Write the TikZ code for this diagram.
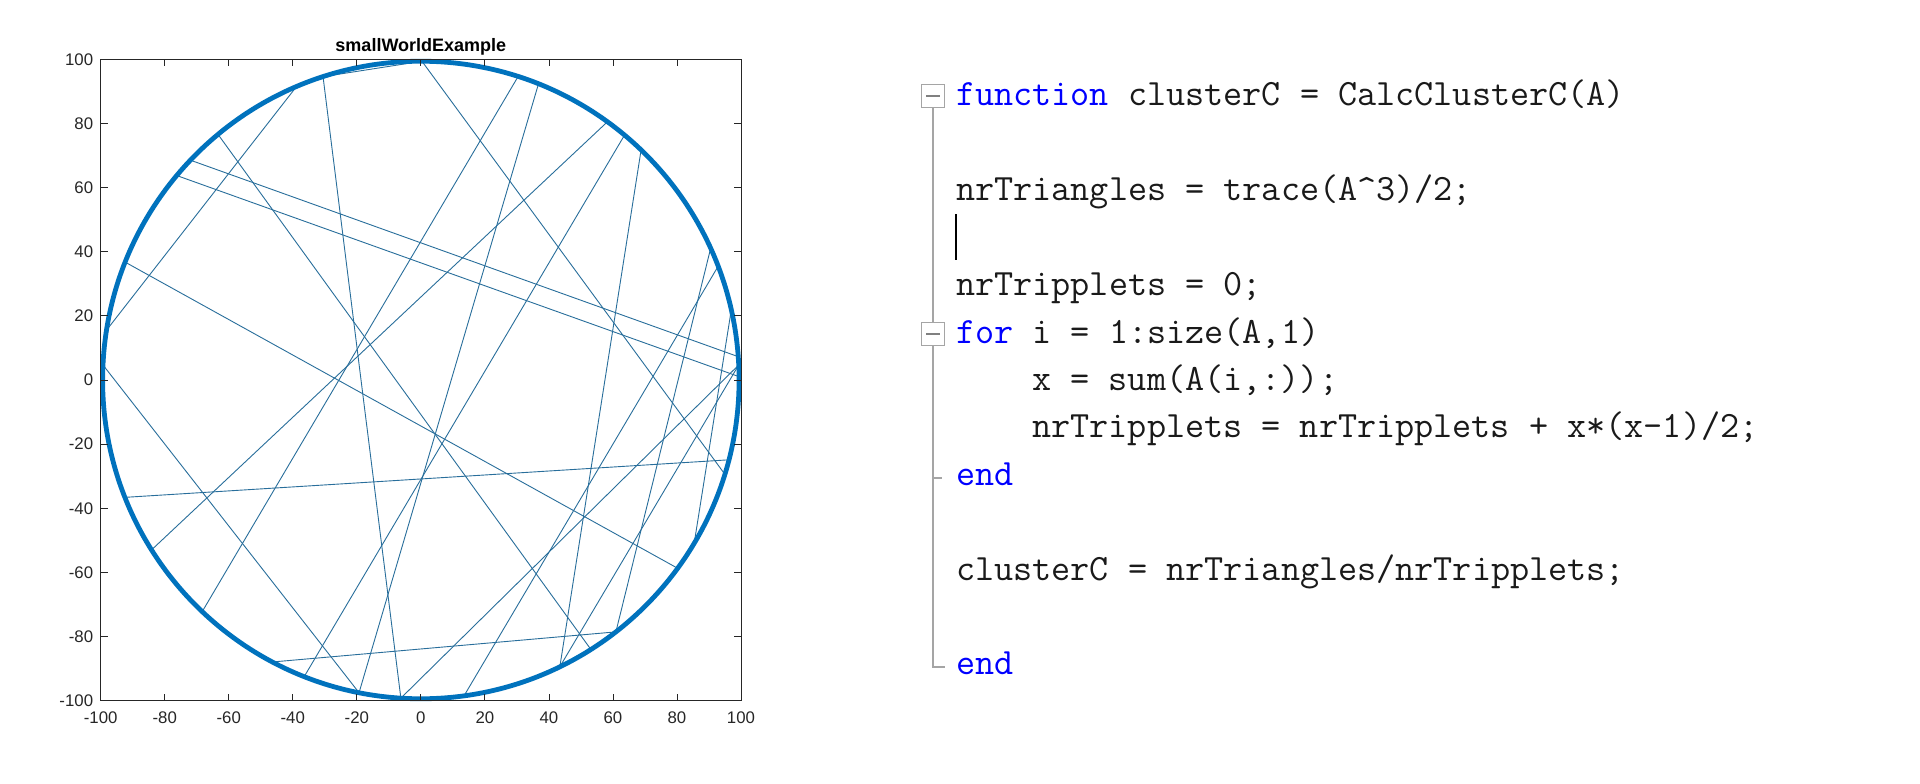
\documentclass[tikz,border=0pt]{standalone}
\usepackage{fontspec}
\newfontfamily\plotfont{Liberation Sans}
\usetikzlibrary{calc}
\definecolor{ringblue}{HTML}{0072BD}
\definecolor{edgeblue}{RGB}{40,110,155}
\definecolor{axisgray}{HTML}{262626}
\definecolor{kwblue}{HTML}{0000FF}
\definecolor{guttergray}{HTML}{A5A5A5}
\definecolor{codeblack}{HTML}{1A1A1A}
\newcommand\kwd[1]{\textcolor{kwblue}{#1}}
\begin{document}
\begin{tikzpicture}[x=1pt,y=-1pt,
  ring/.style={draw=ringblue, line width=4.8pt},
  edge/.style={draw=edgeblue, line width=0.9pt},
  axisline/.style={draw=axisgray, line width=0.8pt},
  ticklab/.style={font=\plotfont\fontsize{16.8}{18}\selectfont, text=axisgray, inner sep=0pt},
  titlelab/.style={font=\plotfont\bfseries\fontsize{18}{20}\selectfont, text=black, inner sep=0pt, anchor=base},
  codeline/.style={font=\ttfamily\fontsize{37.1}{40}\selectfont, text=codeblack, inner sep=0pt, anchor=base west},
  foldbox/.style={draw=guttergray, line width=1pt, minimum width=23pt, minimum height=23pt, inner sep=0pt, fill=white},
  gutter/.style={draw=guttergray, line width=1.2pt},
  foldminus/.style={draw=gray, line width=1.2pt},
  cursorline/.style={draw=black, line width=2pt}
]
\useasboundingbox (0,0) rectangle (1920,784);
\fill[white] (0,0) rectangle (1920,784);

% ---------------- plot ----------------
\begin{scope}[shift={(420.85,380)}, x=3.2015pt, y=3.207pt]
  \foreach \nm/\ang in {t0/89.8, p1/107.9, p2/72.2, p3/68.3, p4/54.1, p5/50.2,
      p6/46.2, p7/24.4, p8/20.9, p9/12.7, p10/4.2, p11/2.7, p12/0.6, p13/-14.5,
      p14/-17.2, p15/-30.8, p16/-36.2, p17/-52.2, p18/-57.7, p19/-64.1,
      p20/-82.2, p21/-93.6, p22/-101.2, p23/-111.5, p24/-117.8, p25/-133.4,
      p26/-147.8, p27/-158.4, p28/177.3, p29/171, p30/158.3, p31/140.1,
      p32/136.4, p33/129.6, p34/113, p35/182}
    \coordinate (\nm) at (\ang:99.4);
  \coordinate (ctr) at (0,0);
  \foreach \a/\b in {p33/p18, p32/p10, p31/p12, p30/p16, p27/p13, p24/p17,
      p29/p34, p28/p22, p1/p21, p1/t0, t0/p14, p2/p25, p3/p22, p4/p26,
      p5/p23, p6/p19, p7/p17, p8/p20, p9/p15, p21/p11, p19/p11, p29/p35}
    \draw[edge] (\a) -- (\b);
  \draw[ring] (ctr) circle [radius=99.4];

  \draw[axisline] (-100,-100) rectangle (100,100);
  \foreach \v [count=\i] in {-100,-80,...,100} {
    \draw[axisline] (\v,-100) -- (\v,-97.8);
    \draw[axisline] (\v,100) -- (\v,97.8);
    \draw[axisline] (-100,\v) -- (-97.8,\v);
    \draw[axisline] (100,\v) -- (97.8,\v);
    \node[ticklab, anchor=north] (xl\i) at (\v,-100) [yshift=-11.3pt] {\v};
    \node[ticklab, anchor=east] (yl\i) at (-100,\v) [xshift=-7.4pt] {\v};
  }
  \node[titlelab] (title) at (0,100) [yshift=8pt] {smallWorldExample};
\end{scope}

% ---------------- code ----------------
\node[codeline] (c0)  at (956,106)   {\kwd{function} clusterC = CalcClusterC(A)};
\node[codeline] (c2)  at (956,200.8) {nrTriangles = trace(A\textasciicircum 3)/2;};
\node[codeline] (c4)  at (956,295.6) {nrTripplets = 0;};
\node[codeline] (c5)  at (956,343)   {\kwd{for} i = 1:size(A,1)};
\node[codeline] (c6)  at (1032.2,390.4) {x = sum(A(i,:));};
\node[codeline] (c7)  at (1032.2,437.8) {nrTripplets = nrTripplets + x*(x-1)/2;};
\node[codeline] (c8)  at (956,485.2) {\kwd{end}};
\node[codeline] (c10) at (956,580)   {clusterC = nrTriangles/nrTripplets;};
\node[codeline] (c12) at (956,674.8) {\kwd{end}};

% cursor
\coordinate (cur1) at (956,214);
\coordinate (cur2) at (956,260);
\draw[cursorline] (cur1) -- (cur2);

% fold gutter
\coordinate (gend) at (933,667);
\coordinate (gendr) at (945,667);
\coordinate (gtick) at (933,478);
\coordinate (gtickr) at (942,478);
\draw[gutter] (933,108) -- (933,322);
\draw[gutter] (933,345) -- (gend) -- (gendr);
\draw[gutter] (gtick) -- (gtickr);
\node[foldbox] (fb1) at (933,96) {};
\node[foldbox] (fb2) at (933,334) {};
\draw[foldminus] ($(fb1.west)+(5,0)$) -- ($(fb1.east)+(-5,0)$);
\draw[foldminus] ($(fb2.west)+(5,0)$) -- ($(fb2.east)+(-5,0)$);
\end{tikzpicture}
\end{document}
